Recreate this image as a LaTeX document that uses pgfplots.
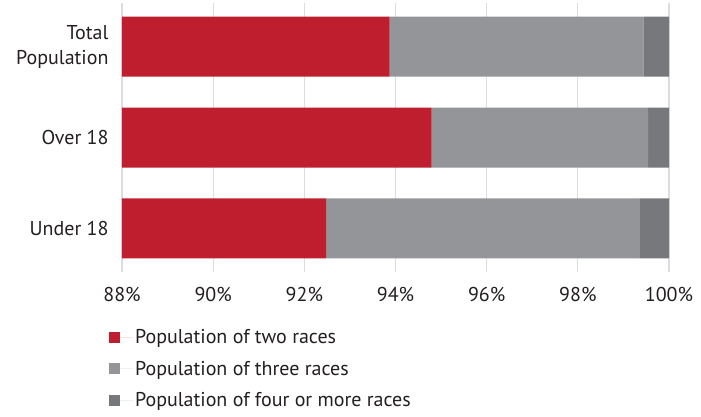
\documentclass[border=0pt]{standalone}
\usepackage{fontspec}
\setmainfont{PT Sans}
\usepackage{pgfplots}
\pgfplotsset{compat=1.18}

\definecolor{tworaces}{HTML}{BE1E2D}
\definecolor{threeraces}{HTML}{939598}
\definecolor{fourraces}{HTML}{77787B}
\definecolor{gridgray}{HTML}{DCDDDE}
\definecolor{txt}{HTML}{231F20}

\begin{document}
\begin{tikzpicture}
\useasboundingbox (-122pt,-144pt) rectangle (579pt,272pt);
\begin{axis}[
    at={(0,0)}, anchor=south west,
    scale only axis,
    width=547pt, height=269pt,
    xbar stacked,
    bar width=60pt,
    y dir=reverse,
    xmin=88, xmax=100,
    ymin=-0.48, ymax=2.48,
    xtick={88,90,...,100},
    ytick={0,1,2},
    yticklabels={Total\\Population, Over 18, Under 18},
    yticklabel style={align=right, xshift=-10pt, font=\fontsize{20}{25}\selectfont},
    xticklabel={\pgfmathprintnumber{\tick}\%},
    xticklabel style={yshift=-12pt},
    /pgf/number format/assume math mode=true,
    ticklabel style={font=\fontsize{20}{25}\selectfont, text=txt},
    xmajorgrids=true,
    grid style={gridgray, line width=1.3pt},
    axis line style={draw=none},
    major tick length=0pt,
    legend style={at={(-0.024,-0.205)}, anchor=north west, draw=none,
        inner sep=0pt, row sep=12pt,
        font=\fontsize{20}{23}\selectfont, text=txt,
        cells={anchor=west}},
    legend image code/.code={
        \path (0pt,0pt) -- (24pt,0pt);
        \fill[#1] (0pt,-5.5pt) rectangle (11pt,5.5pt);},
    legend cell align=left,
]
\addplot[fill=tworaces, draw=none] coordinates {(93.87,0) (94.79,1) (92.48,2)};
\addplot[fill=threeraces, draw=none] coordinates {(5.57,0) (4.75,1) (6.88,2)};
\addplot[fill=fourraces, draw=none] coordinates {(0.56,0) (0.46,1) (0.64,2)};
\legend{Population of two races, Population of three races, Population of four or more races}
\end{axis}
\end{tikzpicture}
\end{document}
